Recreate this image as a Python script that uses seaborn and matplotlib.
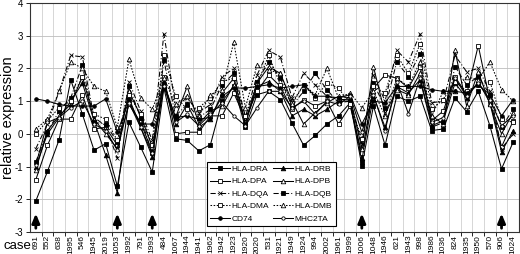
import matplotlib
matplotlib.use("Agg")
import matplotlib.pyplot as plt
import seaborn as sns
import pandas as pd
import numpy as np

cases = ["691", "552", "638", "1995", "546", "1945", "2019", "1053", "1992", "791",
         "1993", "484", "1067", "1944", "1941", "1962", "1942", "1923", "1920", "2020",
         "531", "1921", "1949", "1924", "994", "2002", "1961", "1999", "1006", "1048",
         "1946", "621", "1943", "998", "1986", "1036", "824", "1935", "1950", "570",
         "906", "1024"]

hla_dra = [-2.05, -1.15, -0.18, 1.65, 0.6, -0.5, -0.3, -1.6, 0.35, -0.4, -1.17, 1.4, -0.15, -0.2,
           -0.52, -0.33, 1.0, 1.45, 0.2, 1.2, 1.3, 1.05, 0.33, -0.35, -0.05, 0.3, 0.55, 0.95,
           -0.97, 0.85, -0.35, 1.15, 1.0, 1.15, 0.1, 0.15, 1.1, 0.68, 1.3, 0.25, -1.07, -0.25]
hla_drb = [-1.0, 0.0, 0.5, 1.0, 1.55, 0.4, -0.65, -1.8, 1.1, 0.2, -0.7, 1.6, 0.3, 0.9, 0.2, 0.45,
           1.25, 1.7, 0.3, 1.45, 1.6, 1.3, 0.55, 0.75, 0.55, 0.75, 1.0, 1.0, -0.75, 1.15, 0.2,
           1.45, 1.25, 1.65, 0.25, 0.4, 1.55, 1.1, 1.6, 0.95, -0.55, 0.1]
hla_dpa = [-1.4, -0.35, 0.45, 0.45, 1.2, 0.15, 0.2, -0.35, 0.9, 0.35, -0.55, 1.75, 0.0, 0.05, 0.05,
           0.55, 0.55, 1.25, 0.45, 1.3, 1.8, 1.45, 0.75, 1.05, 0.85, 1.0, 0.3, 0.85, -0.6, 1.4,
           1.8, 1.7, 1.4, 2.05, 0.4, 0.7, 1.75, 1.2, 2.7, 1.0, -0.4, 0.4]
hla_dpb = [-1.1, 0.1, 0.55, 0.9, 1.75, 0.45, 0.0, -0.45, 1.3, 0.55, -0.4, 1.5, 0.5, 1.45, 0.3, 0.7,
           0.85, 1.5, 0.35, 1.55, 2.05, 1.85, 1.0, 0.3, 0.65, 0.95, 1.15, 1.1, -0.45, 2.05, 0.6,
           1.35, 1.2, 1.85, 0.55, 0.3, 2.55, 0.85, 1.9, 0.9, 0.0, 0.65]
hla_dqa = [-0.45, 0.3, 1.3, 2.4, 2.35, 0.5, 0.25, -0.75, 1.6, 0.7, -0.2, 3.05, 0.85, 1.1, 0.65, 0.9,
           1.75, 2.0, 0.5, 1.8, 2.55, 2.35, 1.1, 1.85, 1.5, 1.15, 1.05, 1.05, -0.3, 1.8, 1.0, 2.55,
           2.2, 3.05, 0.95, 1.0, 2.4, 1.9, 2.0, 1.3, -0.45, 0.0]
hla_dqb = [-0.85, 0.05, 0.7, 1.1, 2.1, 0.35, 0.3, -0.25, 1.45, 0.5, -0.6, 2.25, 0.55, 0.9, 0.5, 0.75,
           1.5, 1.85, 0.3, 1.6, 2.2, 1.7, 0.85, 1.3, 1.85, 1.35, 0.95, 1.0, -0.85, 1.55, 0.8, 2.2,
           1.75, 2.45, 0.2, 0.35, 2.05, 1.5, 1.75, 1.2, 0.2, 0.75]
hla_dma = [0.0, 0.4, 0.8, 1.0, 1.75, 0.6, 0.45, -0.2, 1.2, 0.6, -0.35, 2.4, 1.15, 0.75, 0.8, 1.1, 1.6,
           1.7, 0.55, 1.5, 2.4, 1.5, 0.95, 1.5, 1.1, 1.55, 1.4, 0.9, -0.15, 1.45, 1.25, 2.4, 1.85,
           2.75, 0.75, 1.05, 1.6, 1.3, 1.5, 1.6, 0.45, 0.35]
hla_dmb = [0.15, 0.45, 1.3, 2.2, 2.0, 1.45, 1.3, 0.2, 2.28, 1.1, 0.75, 1.7, 0.9, 1.15, 0.55, 1.2, 1.35,
           2.8, 0.8, 2.1, 1.95, 1.85, 0.9, 1.5, 1.2, 2.0, 1.1, 1.25, 0.8, 1.3, 0.55, 1.7, 1.45, 2.2,
           0.55, 1.3, 1.3, 1.75, 1.65, 2.2, 1.35, 1.0]
cd74 = [1.07, 1.0, 0.9, 0.85, 0.85, 0.85, 1.07, 0.05, 1.0, 0.3, 0.3, 1.55, 0.5, 0.55, 0.45, 0.5, 1.15,
        1.4, 1.4, 1.45, 1.5, 1.4, 1.45, 1.5, 1.15, 1.15, 1.1, 1.2, 0.3, 1.0, 0.95, 1.45, 1.45, 1.45,
        1.35, 1.3, 1.3, 1.25, 1.5, 1.2, 0.55, 1.05]
mhc2ta = [-0.95, 0.35, 0.5, 0.8, 1.0, 0.3, 0.1, -0.5, 0.95, 0.2, -0.6, 1.45, 0.35, 0.6, 0.25, 0.6, 0.95,
          0.55, 0.25, 0.8, 1.3, 1.3, 0.8, 1.0, 0.6, 1.0, 0.9, 1.15, 0.05, 1.2, 0.1, 1.6, 0.62, 1.7,
          0.35, 0.5, 1.7, 1.15, 1.55, 1.05, 0.25, 0.55]

arrow_cases = ["691", "1053", "1993", "1006", "906"]

series = {
    "HLA-DRA": hla_dra, "HLA-DRB": hla_drb, "HLA-DPA": hla_dpa, "HLA-DPB": hla_dpb,
    "HLA-DQA": hla_dqa, "HLA-DQB": hla_dqb, "HLA-DMA": hla_dma, "HLA-DMB": hla_dmb,
    "CD74": cd74, "MHC2TA": mhc2ta,
}

styles = {
    "HLA-DRA": dict(ls="-", marker="s", mfc="black", ms=3.0),
    "HLA-DRB": dict(ls="-", marker="^", mfc="black", ms=3.3),
    "HLA-DPA": dict(ls="-", marker="s", mfc="white", ms=3.0),
    "HLA-DPB": dict(ls="-", marker="^", mfc="white", ms=3.3),
    "HLA-DQA": dict(ls=(0, (5, 2, 1, 2)), marker="x", mfc="black", ms=3.3),
    "HLA-DQB": dict(ls=(0, (5, 2, 1, 2)), marker="s", mfc="black", ms=3.0),
    "HLA-DMA": dict(ls=(0, (1.5, 1.5)), marker="s", mfc="white", ms=3.0),
    "HLA-DMB": dict(ls=(0, (1.5, 1.5)), marker="^", mfc="white", ms=3.3),
    "CD74": dict(ls="-", marker="o", mfc="black", ms=2.6),
    "MHC2TA": dict(ls="-", marker="o", mfc="white", ms=2.4),
}

plt.rcParams["font.family"] = ["Liberation Sans", "DejaVu Sans"]
plt.rcParams["axes.unicode_minus"] = False

fig = plt.figure(figsize=(5.2, 2.54), dpi=100)
ax = fig.add_axes([30 / 520, 1 - 232 / 254, 489 / 520, 229 / 254])

handles = {}
for name, vals in series.items():
    df = pd.DataFrame({"case": cases, "value": vals})
    st = styles[name]
    sns.lineplot(data=df, x="case", y="value", ax=ax, sort=False, color="black",
                 linewidth=0.75, linestyle=st["ls"], marker=st["marker"],
                 markersize=st["ms"], markerfacecolor=st["mfc"], markeredgecolor="black",
                 markeredgewidth=0.6, label=name, legend=False)
    handles[name] = ax.lines[-1]

ax.set_xlim(-0.5, len(cases) - 0.5)
ax.set_ylim(-3, 4)
ax.set_yticks(range(-3, 5))
ax.set_xticks(range(len(cases)))
ax.set_xticklabels(cases, rotation=90, fontsize=6.0)
ax.set_xticks(np.arange(0.5, len(cases) - 0.5, 1.0), minor=True)
ax.tick_params(axis="y", labelsize=7, length=3, width=0.6, pad=2)
ax.tick_params(axis="x", which="major", length=0, pad=2)
ax.tick_params(axis="x", which="minor", length=3, width=0.6)
ax.grid(axis="y", which="major", color="#bdbdbd", lw=0.6)
ax.grid(axis="x", which="minor", color="#d0d0d0", lw=0.6)
ax.grid(axis="x", which="major", visible=False)
ax.set_axisbelow(True)
for s in ax.spines.values():
    s.set_color("#333333")
    s.set_linewidth(0.8)
ax.set_xlabel("")
ax.set_ylabel("relative expression", fontsize=10.5)
ax.yaxis.set_label_coords(-0.03, 0.5)

for c in arrow_cases:
    i = cases.index(c)
    ax.annotate("", xy=(i, -2.35), xytext=(i, -2.97),
                arrowprops=dict(arrowstyle="-|>,head_width=0.25,head_length=0.6",
                                lw=2.0, color="black", mutation_scale=9))

order = ["HLA-DRA", "HLA-DPA", "HLA-DQA", "HLA-DMA", "CD74",
         "HLA-DRB", "HLA-DPB", "HLA-DQB", "HLA-DMB", "MHC2TA"]
leg = ax.legend([handles[n] for n in order], order, ncol=2, loc="lower left",
                bbox_to_anchor=(0.362, 0.026), fontsize=6.0, frameon=True,
                fancybox=False, framealpha=1, edgecolor="black", handlelength=2.3,
                columnspacing=0.5, handletextpad=0.25, labelspacing=0.55,
                borderpad=0.4, borderaxespad=0)
leg.get_frame().set_linewidth(0.8)

fig.text(3 / 520, 1 - 246 / 254, "case", fontsize=9.5, va="center", ha="left")

fig.savefig("out.png", dpi=100)
